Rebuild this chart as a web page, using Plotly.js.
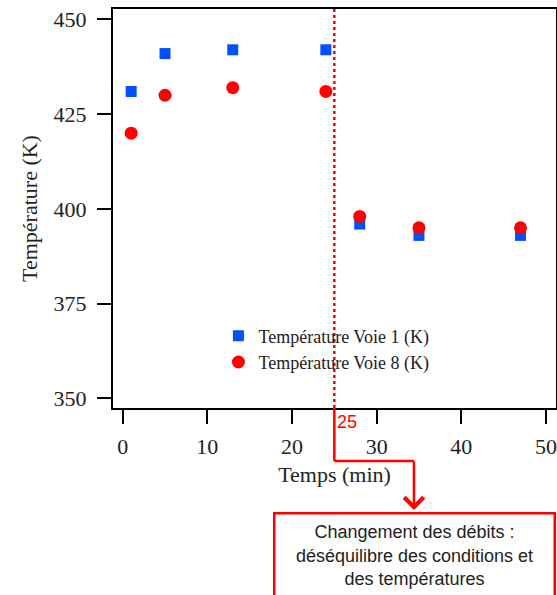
<!DOCTYPE html>
<html><head><meta charset="utf-8">
<script src="https://cdn.plot.ly/plotly-3.0.1.min.js"></script>
<style>html,body{margin:0;padding:0;background:#fff;}</style>
</head><body>
<div id="chart" style="width:557px;height:595px;"></div>
<script>
const temps = [1, 5, 13, 24, 28, 35, 47];
const voie1 = [431, 441, 442, 442, 396, 393, 393];
const voie8 = [420, 430, 432, 431, 398, 395, 395];
const seriesNames = ['Température Voie 1 (K)', 'Température Voie 8 (K)'];
const changeTime = [25];
const changeLabel = ['25'];
const noteText = ['Changement des débits :', 'déséquilibre des conditions et', 'des températures'];
const xTicks = [0, 10, 20, 30, 40, 50];
const yTicks = [350, 375, 400, 425, 450];

const serif = 'Liberation Serif, Times New Roman, serif';
const sans = 'Liberation Sans, Arial, sans-serif';

const traces = [
  {x: temps, y: voie1, name: seriesNames[0], type: 'scatter', mode: 'markers',
   marker: {symbol: 'square', size: 11, color: '#0050ff'}},
  {x: temps, y: voie8, name: seriesNames[1], type: 'scatter', mode: 'markers',
   marker: {symbol: 'circle', size: 13, color: '#ff0000'}}
];

const ax = {
  showgrid: false, zeroline: false, showline: true, mirror: true,
  linecolor: '#000', linewidth: 2, ticks: 'outside', ticklen: 14, tickwidth: 2,
  tickcolor: '#000', tickfont: {family: serif, size: 22, color: '#222'}
};

const lineY = -0.1328; // horizontal connector level (paper)
const layout = {
  width: 557, height: 595,
  margin: {l: 113, r: 1, t: 9, b: 187},
  paper_bgcolor: '#fff', plot_bgcolor: '#fff',
  showlegend: true,
  legend: {x: 0.238, y: 0.227, xanchor: 'left', yanchor: 'top', bgcolor: 'rgba(0,0,0,0)',
           font: {family: serif, size: 18, color: '#222'}, tracegroupgap: 0},
  xaxis: Object.assign({}, ax, {range: [-1.146, 51.19], tickvals: xTicks, ticklabelstandoff: 4,
    title: {text: 'Temps (min)', font: {family: serif, size: 22, color: '#222'}, standoff: 8}}),
  yaxis: Object.assign({}, ax, {range: [347.44, 452.77], tickvals: yTicks, ticklabelstandoff: 6,
    title: {text: 'Température (K)', font: {family: serif, size: 22, color: '#222'}, standoff: 10}}),
  shapes: [
    {type: 'line', xref: 'x', yref: 'paper', x0: changeTime[0], x1: changeTime[0], y0: 0, y1: 1,
     line: {color: '#ff0000', width: 2.5, dash: 'dot'}},
    {type: 'line', xref: 'x', yref: 'paper', x0: changeTime[0], x1: changeTime[0], y0: 0, y1: lineY,
     line: {color: '#ff0000', width: 2.5}},
    {type: 'line', xref: 'x', yref: 'paper', x0: changeTime[0], x1: 34.41, y0: lineY, y1: lineY,
     line: {color: '#ff0000', width: 2.5}}
  ],
  annotations: [
    {text: changeLabel[0], xref: 'x', yref: 'paper', x: changeTime[0], y: -0.0343,
     xanchor: 'left', yanchor: 'middle', xshift: 1, showarrow: false,
     font: {family: sans, size: 18, color: '#ff0000'}},
    {text: '', xref: 'x', yref: 'paper', x: 34.41, y: -0.2556, ax: 0, ay: -50,
     axref: 'pixel', ayref: 'pixel', showarrow: true, arrowhead: 4, arrowsize: 1.5,
     arrowwidth: 2.5, arrowcolor: '#ff0000'},
    {text: noteText.join('<br>'), xref: 'paper', yref: 'paper', x: 0.6795, y: -0.2599,
     xanchor: 'center', yanchor: 'top', showarrow: false, width: 276, height: 80,
     align: 'center', valign: 'middle', bordercolor: '#ff0000', borderwidth: 2.5, bgcolor: '#fff',
     font: {family: sans, size: 18, color: '#222'}}
  ]
};

Plotly.newPlot('chart', traces, layout, {displayModeBar: false, staticPlot: true});
</script>
</body></html>
